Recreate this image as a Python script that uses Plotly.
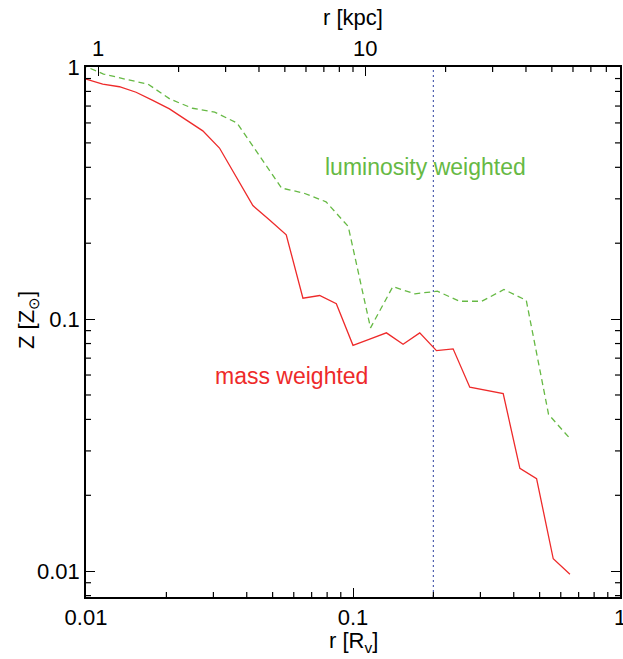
import numpy as np
import plotly.graph_objects as go

# ---- data ----
r_mass = [0.01, 0.01155, 0.01334, 0.01540, 0.01778, 0.02054, 0.02371, 0.02738,
          0.03162, 0.03652, 0.04217, 0.04870, 0.05623, 0.06494, 0.07499, 0.08660,
          0.1, 0.1155, 0.1334, 0.1540, 0.1778, 0.2054, 0.2371, 0.2738,
          0.3162, 0.3652, 0.4217, 0.4870, 0.5623, 0.6494]
z_mass = [0.896, 0.856, 0.835, 0.794, 0.737, 0.682, 0.617, 0.558,
          0.477, 0.368, 0.282, 0.247, 0.216, 0.121, 0.124, 0.115,
          0.0787, 0.0833, 0.0882, 0.0795, 0.0882, 0.0750, 0.0762, 0.0537,
          0.0521, 0.0506, 0.0256, 0.0233, 0.0112, 0.00973]

r_lum = [0.00960, 0.01163, 0.01410, 0.01706, 0.02069, 0.02506, 0.03035, 0.03676,
         0.04456, 0.05400, 0.06542, 0.07925, 0.09598, 0.1163, 0.1410, 0.1706,
         0.2069, 0.2506, 0.3035, 0.3676, 0.4456, 0.5400, 0.6542]
z_lum = [1.022, 0.938, 0.894, 0.855, 0.745, 0.686, 0.662, 0.600,
         0.446, 0.331, 0.316, 0.292, 0.233, 0.0923, 0.1345, 0.126,
         0.129, 0.1177, 0.1177, 0.131, 0.1187, 0.0419, 0.0333]

R_MARK = 0.2          # vertical dotted marker [R_v]
RV_KPC = 90.0         # virial radius in kpc (top axis conversion)
kpc_ticks = [1, 10]

RED = "#ee2a2a"
GREEN = "#66b944"
DOT = "#4f5fae"
FONT = "Liberation Sans, Arial, Helvetica, sans-serif"

Y_MIN = 0.0079
W, H = 623, 659
X_LO, X_HI = 0.01, 1.0
K_LO, K_HI = X_LO * RV_KPC, X_HI * RV_KPC


def minor_vals(lo, hi):
    out = []
    e = int(np.floor(np.log10(lo)))
    while 10.0 ** e <= hi:
        for d in range(2, 10):
            v = d * 10.0 ** e
            if lo < v < hi:
                out.append(v)
        e += 1
    return out


fig = go.Figure()
fig.add_trace(go.Scatter(x=[R_MARK, R_MARK], y=[Y_MIN, 1.0], mode="lines",
                         line=dict(color=DOT, width=1.2, dash="2px,3px"),
                         hoverinfo="skip", showlegend=False))
fig.add_trace(go.Scatter(x=r_lum, y=z_lum, mode="lines",
                         line=dict(color=GREEN, width=1.3, dash="6px,4px"),
                         showlegend=False))
fig.add_trace(go.Scatter(x=r_mass, y=z_mass, mode="lines",
                         line=dict(color=RED, width=1.3),
                         showlegend=False))
# invisible trace anchoring the top (kpc) axis
fig.add_trace(go.Scatter(x=kpc_ticks, y=[0.5, 0.5], xaxis="x2",
                         mode="markers", marker=dict(opacity=0, size=1),
                         hoverinfo="skip", showlegend=False))

axis_common = dict(showgrid=False, zeroline=False, showline=True,
                   linecolor="black", linewidth=1.5, ticks="inside",
                   ticklen=9, tickwidth=1.3, tickcolor="black",
                   automargin=False, tickmode="linear", tick0=0, dtick=1,
                   tickfont=dict(size=22, color="black", family=FONT))

# minor ticks drawn as short pixel-sized lines (data values on log axes)
MINLEN = 5
shapes = []
tick_line = dict(color="black", width=1.2)
for v in minor_vals(X_LO, X_HI):
    shapes.append(dict(type="line", xref="x", yref="paper", x0=v, x1=v,
                       ysizemode="pixel", yanchor=0, y0=0, y1=MINLEN,
                       line=tick_line, layer="above"))
for v in minor_vals(K_LO, K_HI):
    shapes.append(dict(type="line", xref="x2", yref="paper", x0=v, x1=v,
                       ysizemode="pixel", yanchor=1, y0=0, y1=-MINLEN,
                       line=tick_line, layer="above"))
for v in minor_vals(Y_MIN, 1.0):
    for anchor, sgn in ((0, 1), (1, -1)):
        shapes.append(dict(type="line", xref="paper", yref="y", y0=v, y1=v,
                           xsizemode="pixel", xanchor=anchor, x0=0,
                           x1=sgn * MINLEN, line=tick_line, layer="above"))

fig.update_layout(
    width=W, height=H, autosize=False,
    margin=dict(l=86, r=3, t=67, b=62),
    paper_bgcolor="white", plot_bgcolor="white",
    font=dict(family=FONT, size=22, color="black"),
    xaxis=dict(type="log", range=[np.log10(X_LO), np.log10(X_HI)],
               mirror=True, **axis_common),
    xaxis2=dict(type="log", overlaying="x", side="top", anchor="y",
                range=[np.log10(K_LO), np.log10(K_HI)],
                **axis_common),
    yaxis=dict(type="log", range=[np.log10(Y_MIN), 0],
               mirror="ticks", **axis_common),
    shapes=shapes,
    annotations=[
        # right-most bottom tick label (half cut by the page edge, as in the original)
        dict(x=np.log10(X_HI), y=-20 / 530, xref="x", yref="paper",
             text="1", showarrow=False, xanchor="center", yanchor="middle",
             font=dict(size=22, color="black", family=FONT)),
        dict(x=0.5, y=-45 / 530, xref="paper", yref="paper",
             text="r [R<sub>v</sub>]", showarrow=False, yanchor="middle",
             font=dict(size=22, color="black", family=FONT)),
        dict(x=0.5, y=1.0 + 49 / 530, xref="paper", yref="paper",
             text="r [kpc]", showarrow=False, yanchor="middle",
             font=dict(size=22, color="black", family=FONT)),
        dict(x=-58 / 534, y=(597 - 320) / 530, xref="paper", yref="paper",
             text="Z [Z<sub>⊙</sub>]", showarrow=False, textangle=-90,
             xanchor="center", yanchor="middle",
             font=dict(size=22, color="black", family=FONT)),
        dict(x=np.log10(0.1875), y=np.log10(0.402), xref="x", yref="y",
             text="luminosity weighted", showarrow=False,
             font=dict(size=23, color=GREEN, family=FONT)),
        dict(x=np.log10(0.0586), y=np.log10(0.0592), xref="x", yref="y",
             text="mass weighted", showarrow=False,
             font=dict(size=23, color=RED, family=FONT)),
    ],
)

post = ("document.body.style.margin='0';"
        "document.body.style.overflow='hidden';"
        "Plotly.relayout('{plot_id}', {width: %d, height: %d});" % (W, H))
fig.write_html("out.html", post_script=post,
               config={"responsive": False, "displayModeBar": False})
